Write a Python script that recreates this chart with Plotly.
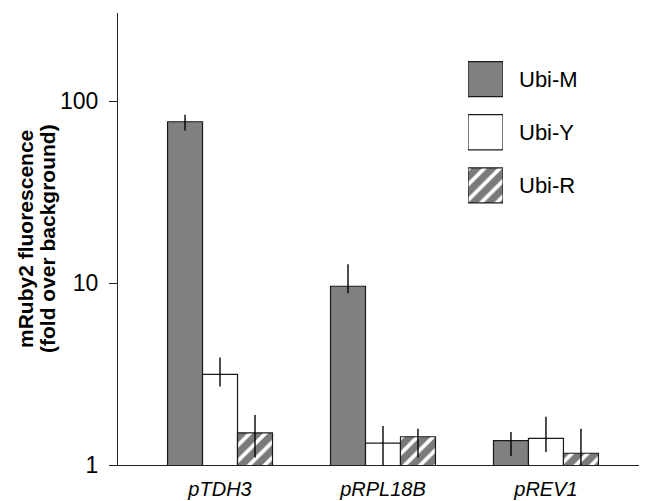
import plotly.graph_objects as go

promoters = ["pTDH3", "pRPL18B", "pREV1"]
series_names = ["Ubi-M", "Ubi-Y", "Ubi-R"]
ubi_m = [77, 9.6, 1.36]
ubi_y = [3.15, 1.32, 1.40]
ubi_r = [1.50, 1.43, 1.16]
ubi_m_hi = [84, 12.7, 1.52]
ubi_m_lo = [69, 8.8, 1.12]
ubi_y_hi = [3.9, 1.64, 1.84]
ubi_y_lo = [2.7, 0.95, 1.18]
ubi_r_hi = [1.88, 1.58, 1.58]
ubi_r_lo = [1.10, 1.10, 0.96]
ytick_vals = [1, 10, 100]
ytick_text = ["1", "10", "100"]
title_lines = ["mRuby2 fluorescence", "(fold over background)"]

FONT = "Liberation Sans, Arial, Helvetica, sans-serif"
GREY = "#808080"
OUTLINE = "#1a1a1a"

values = [ubi_m, ubi_y, ubi_r]
his = [ubi_m_hi, ubi_y_hi, ubi_r_hi]
los = [ubi_m_lo, ubi_y_lo, ubi_r_lo]

styles = [
    dict(color=GREY),
    dict(color="white"),
    dict(color="white", pattern=dict(shape="/", fgcolor="#7a7a7a", bgcolor="white",
                                     fgopacity=1, size=11, solidity=0.66,
                                     fillmode="overlay")),
]

fig = go.Figure()
for name, v, hi, lo, st in zip(series_names, values, his, los, styles):
    fig.add_trace(go.Bar(
        x=promoters, y=v, name=name, showlegend=False,
        marker=dict(line=dict(color=OUTLINE, width=1.2), **st),
        error_y=dict(type="data", symmetric=False,
                     array=[h - a for h, a in zip(hi, v)],
                     arrayminus=[a - l for a, l in zip(v, lo)],
                     color="black", thickness=1.4, width=0),
    ))

# legend swatches drawn as bars on an auxiliary axis pair
for i, (name, st) in enumerate(zip(series_names, styles)):
    fig.add_trace(go.Bar(
        x=[1], y=[i], orientation="h", width=0.66, showlegend=False,
        xaxis="x2", yaxis="y2", hoverinfo="skip",
        marker=dict(line=dict(color=OUTLINE, width=1.2), **st),
    ))
    fig.add_annotation(
        xref="x2", yref="y2", x=1, y=i, text=name, showarrow=False,
        xanchor="left", xshift=14, font=dict(family=FONT, size=22, color="black"),
    )

# two-line bold y-axis title
for xp, line in zip([-0.1758, -0.1342], title_lines):
    fig.add_annotation(
        xref="paper", yref="paper", x=xp, y=0.5, text="<b>" + line + "</b>",
        textangle=-90, showarrow=False, xanchor="center", yanchor="middle",
        font=dict(family=FONT, size=21, color="black"),
    )

fig.update_layout(
    width=639, height=493,
    margin=dict(l=110, r=0, t=5, b=36),
    paper_bgcolor="white", plot_bgcolor="white",
    barmode="group", bargap=0.356, bargroupgap=0,
    font=dict(family=FONT, color="black"),
    xaxis=dict(
        range=[-0.626, 2.62], showgrid=False, zeroline=False,
        showline=True, linecolor="#222", linewidth=1.2,
        ticks="", tickfont=dict(family=FONT, size=20, style="italic"),
        ticklabelstandoff=6,
    ),
    yaxis=dict(
        type="log", range=[0, 2.484], showgrid=False, zeroline=False,
        showline=True, linecolor="#222", linewidth=1.2,
        ticks="outside", ticklen=8, tickwidth=1.2, tickcolor="#222",
        tickvals=ytick_vals, ticktext=ytick_text,
        tickfont=dict(family=FONT, size=23),
        ticklabelstandoff=6,
    ),
    xaxis2=dict(domain=[0.6616, 0.7278], range=[0, 1], anchor="y2",
                visible=False, fixedrange=True),
    yaxis2=dict(domain=[0.5597, 0.9126], range=[2.5, -0.5], anchor="x2",
                visible=False, fixedrange=True),
)

fig.write_html("out.html")
